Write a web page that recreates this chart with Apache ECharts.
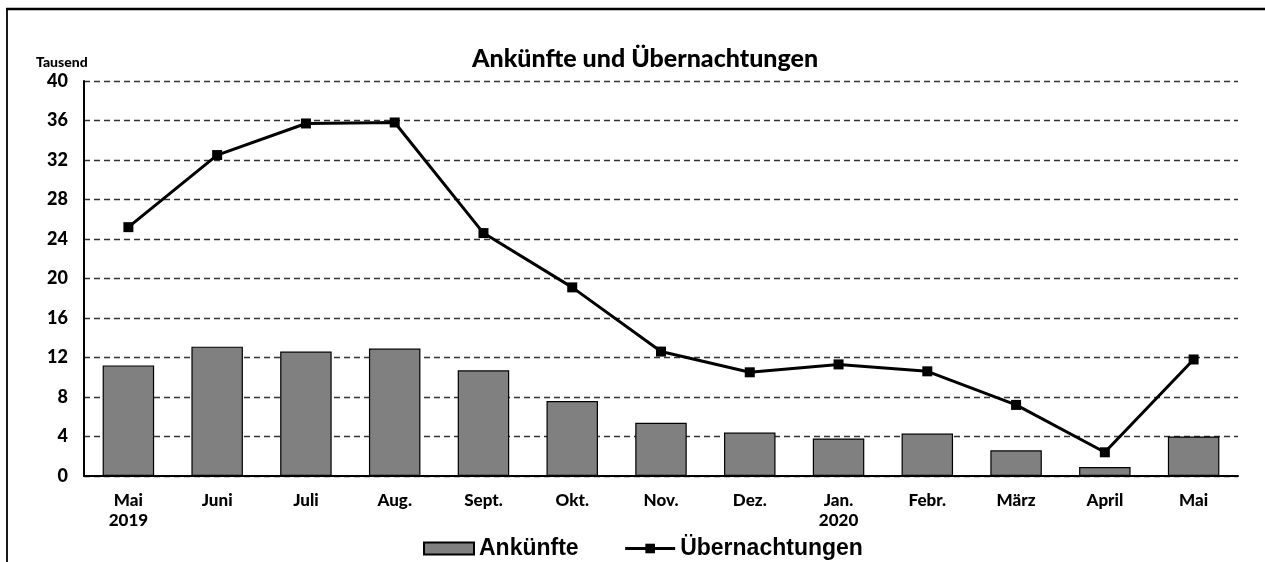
<!DOCTYPE html>
<html>
<head>
<meta charset="utf-8">
<script src="https://cdn.jsdelivr.net/npm/echarts@6/dist/echarts.min.js"></script>
<style>
  html, body { margin: 0; padding: 0; background: #fff; }
  #chart { width: 1265px; height: 562px; }
</style>
</head>
<body>
<div id="chart"></div>
<script>
// Monate Mai 2019 bis Mai 2020
const monate = ["Mai\n2019", "Juni", "Juli", "Aug.", "Sept.", "Okt.", "Nov.", "Dez.", "Jan.\n2020", "Febr.", "März", "April", "Mai"];
// Werte in Tausend
const ankuenfte = [11.2, 13.1, 12.6, 12.9, 10.7, 7.6, 5.4, 4.4, 3.8, 4.3, 2.6, 0.9, 4.0];
const uebernachtungen = [25.2, 32.5, 35.7, 35.8, 24.6, 19.1, 12.6, 10.5, 11.3, 10.6, 7.2, 2.4, 11.8];
const yTicks = [0, 4, 8, 12, 16, 20, 24, 28, 32, 36, 40];

const schrift = "Lato, 'Open Sans', sans-serif";

const chart = echarts.init(document.getElementById("chart"));

const option = {
  backgroundColor: "#fff",
  animation: false,
  title: {
    text: "Ankünfte und Übernachtungen",
    left: 467,
    top: 41,
    textStyle: { fontFamily: schrift, fontWeight: 900, fontSize: 25, color: "#000" }
  },
  legend: {
    bottom: -3,
    left: 418,
    itemWidth: 50,
    itemHeight: 12,
    itemGap: 45,
    textStyle: { fontFamily: "'Liberation Sans', Arial, sans-serif", fontWeight: "bold", fontSize: 23, color: "#000" },
    data: [
      { name: "Ankünfte", icon: "rect" },
      { name: "Übernachtungen", lineStyle: { width: 3, color: "#000" } }
    ]
  },
  grid: { left: 84, right: 27, top: 81, bottom: 86, containLabel: false },
  xAxis: {
    type: "category",
    data: monate,
    axisLine: { lineStyle: { color: "#000", width: 2 } },
    axisTick: { show: false },
    axisLabel: {
      margin: 15,
      fontFamily: schrift, fontWeight: 900, fontSize: 17, color: "#000", lineHeight: 20,
      interval: 0
    }
  },
  yAxis: {
    type: "value",
    min: 0,
    max: 40,
    interval: 4,
    axisLine: { show: true, lineStyle: { color: "#000", width: 2 } },
    axisTick: { show: false },
    axisLabel: {
      margin: 16,
      fontFamily: schrift, fontWeight: 900, fontSize: 18, color: "#000",
      formatter: v => yTicks.includes(v) ? String(v) : ""
    },
    splitLine: { lineStyle: { color: "#333", type: [6, 4], width: 1.3 } }
  },
  series: [
    {
      name: "Ankünfte",
      type: "bar",
      data: ankuenfte,
      barWidth: "58%",
      itemStyle: { color: "#808080", borderColor: "#000", borderWidth: 1.2 },
      z: 2
    },
    {
      name: "Übernachtungen",
      type: "line",
      data: uebernachtungen,
      symbol: "rect",
      symbolSize: 10,
      lineStyle: { color: "#000", width: 3 },
      itemStyle: { color: "#000" },
      z: 3
    }
  ],
  graphic: [
    { type: "line", shape: { x1: 6, y1: 9, x2: 1265, y2: 9 }, style: { stroke: "#000", lineWidth: 2.5 } },
    { type: "line", shape: { x1: 7, y1: 8, x2: 7, y2: 562 }, style: { stroke: "#000", lineWidth: 1.8 } },
    {
      type: "text", left: 36, top: 55,
      style: { text: "Tausend", font: "900 14px " + schrift, fill: "#000" }
    }
  ]
};

chart.setOption(option);
</script>
</body>
</html>
